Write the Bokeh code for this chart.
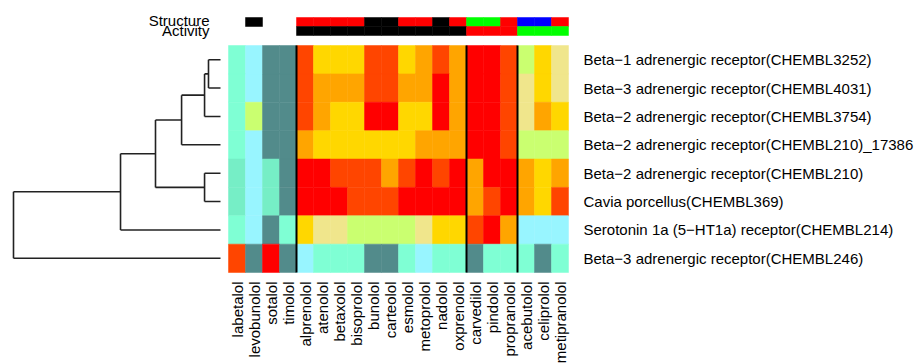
from math import pi
from bokeh.plotting import figure
from bokeh.models import Range1d, ColumnDataSource, LinearColorMapper
from bokeh.transform import transform
from bokeh.embed import file_html
from bokeh.resources import INLINE
from bokeh.core.properties import value

# ---------------- data ----------------
drugs = ["labetalol", "levobunolol", "sotalol", "timolol", "alprenolol", "atenolol",
         "betaxolol", "bisoprolol", "bunolol", "carteolol", "esmolol", "metoprolol",
         "nadolol", "oxprenolol", "carvedilol", "pindolol", "propranolol",
         "acebutolol", "celiprolol", "metipranolol"]

targets = ["Beta\u22121 adrenergic receptor(CHEMBL3252)",
           "Beta\u22123 adrenergic receptor(CHEMBL4031)",
           "Beta\u22122 adrenergic receptor(CHEMBL3754)",
           "Beta\u22122 adrenergic receptor(CHEMBL210)_17386",
           "Beta\u22122 adrenergic receptor(CHEMBL210)",
           "Cavia porcellus(CHEMBL369)",
           "Serotonin 1a (5\u2212HT1a) receptor(CHEMBL214)",
           "Beta\u22123 adrenergic receptor(CHEMBL246)"]

# level per cell (1 = strongest ... 10 = weakest / none)
row_beta1_3252   = [8, 9, 10, 10, 2, 4, 4, 4, 2, 2, 4, 3, 2, 3, 1, 1, 2, 6, 4, 5]
row_beta3_4031   = [8, 9, 10, 10, 2, 3, 3, 3, 2, 2, 3, 3, 1, 3, 1, 1, 2, 5, 4, 5]
row_beta2_3754   = [8, 6, 10, 10, 2, 3, 4, 4, 1, 1, 4, 4, 1, 3, 1, 1, 2, 5, 3, 4]
row_beta2_17386  = [8, 9, 10, 10, 3, 4, 4, 4, 4, 4, 4, 3, 3, 3, 1, 1, 2, 6, 6, 6]
row_beta2_210    = [7, 9, 7, 10, 1, 1, 2, 2, 2, 3, 2, 1, 2, 1, 3, 1, 1, 3, 4, 3]
row_cavia_369    = [7, 9, 7, 10, 1, 1, 1, 2, 2, 2, 1, 1, 1, 1, 3, 2, 1, 3, 4, 2]
row_5ht1a_214    = [8, 9, 10, 8, 4, 5, 5, 6, 6, 6, 6, 5, 4, 4, 2, 1, 3, 9, 9, 9]
row_beta3_246    = [2, 10, 1, 10, 9, 8, 8, 8, 10, 10, 8, 9, 8, 8, 10, 8, 8, 8, 10, 8]
levels = [row_beta1_3252, row_beta3_4031, row_beta2_3754, row_beta2_17386,
          row_beta2_210, row_cavia_369, row_5ht1a_214, row_beta3_246]

palette = ["#FF0000", "#FF4500", "#FFA500", "#FFD700", "#F0E68C",
           "#CAFF70", "#76EEC6", "#7FFFD4", "#98F5FF", "#528B8B"]

structure = [None, "#000000", None, None, "#FF0000", "#FF0000", "#FF0000", "#FF0000",
             "#000000", "#000000", "#FF0000", "#FF0000", "#000000", "#FF0000",
             "#00FF00", "#00FF00", "#FF0000", "#0000FF", "#0000FF", "#FF0000"]
activity = [None, None, None, None, "#000000", "#000000", "#000000", "#000000",
            "#000000", "#000000", "#000000", "#000000", "#000000", "#000000",
            "#FF0000", "#FF0000", "#FF0000", "#00FF00", "#00FF00", "#00FF00"]

group_breaks = [4, 14, 17]

# dendrogram merges (child a, child b, height); ids >= 8 are earlier merges
merges = [(0, 1, 0.58), (8, 2, 0.77), (9, 3, 1.88), (4, 5, 0.77),
          (10, 11, 3.14), (12, 6, 4.83), (13, 7, 10.0)]

# ---------------- layout (pixels in picture coordinates) ----------------
W, H = 921, 363
CW = 17.0          # column width px
HL = 228.0         # heatmap left px
HB = 272.0         # heatmap bottom px
RH = 28.375        # row height px
LEAF_PX, ROOT_PX = 220.0, 13.0

def dx(px):
    return (px - HL) / CW

def dy(py):
    return (HB - py) / RH

nrow, ncol = len(targets), len(drugs)

p = figure(width=W, height=H, output_backend="svg", toolbar_location=None,
           x_range=Range1d(dx(0), dx(W)), y_range=Range1d(dy(H), dy(0)),
           min_border=0, outline_line_color=None)
p.axis.visible = False
p.grid.visible = False
p.background_fill_color = "white"
p.border_fill_color = "white"

# heatmap
xs, ys, vs = [], [], []
for r in range(nrow):
    for c in range(ncol):
        xs.append(c + 0.5)
        ys.append(nrow - r - 0.5)
        vs.append(levels[r][c])
mapper = LinearColorMapper(palette=palette, low=0.5, high=len(palette) + 0.5)
src = ColumnDataSource(dict(x=xs, y=ys, v=vs))
p.rect("x", "y", width=1, height=1, source=src,
       fill_color=transform("v", mapper), line_color=transform("v", mapper), line_width=0.5)

# group separators
p.segment(x0=group_breaks, x1=group_breaks, y0=[0] * 3, y1=[nrow] * 3,
          line_color="black", line_width=2)

# annotation bars
def bar(colors, top_px, bot_px):
    bx = [c + 0.5 for c, col in enumerate(colors) if col]
    bc = [col for col in colors if col]
    yc = (dy(top_px) + dy(bot_px)) / 2
    hh = dy(top_px) - dy(bot_px)
    p.rect(x=bx, y=[yc] * len(bx), width=1, height=hh, fill_color=bc, line_color=bc, line_width=0.5)

bar(structure, 17, 26)
bar(activity, 26, 35)

FONT = value("Liberation Sans")
p.text(x=[dx(209)] * 2, y=[dy(20), dy(30)], text=["Structure", "Activity"],
       text_align="right", text_baseline="middle", text_font=FONT,
       text_font_size="15px", text_color="black")

# row labels
p.text(x=[dx(583)] * nrow, y=[nrow - r - 0.5 for r in range(nrow)], text=targets,
       text_align="left", text_baseline="middle", text_font=FONT,
       text_font_size="15px", text_color="black")

# column labels
p.text(x=[c + 0.5 for c in range(ncol)], y=[dy(281)] * ncol, text=drugs, angle=pi / 2,
       text_align="right", text_baseline="middle", text_font=FONT,
       text_font_size="15px", text_color="black")

# dendrogram
max_h = max(m[2] for m in merges)
leaf_x = dx(LEAF_PX)
scale = (dx(LEAF_PX) - dx(ROOT_PX)) / max_h

def X(h):
    return leaf_x - h * scale

node_y = {i: nrow - i - 0.5 for i in range(nrow)}
node_h = {i: 0.0 for i in range(nrow)}
x0s, y0s, x1s, y1s = [], [], [], []
for k, (a, b, h) in enumerate(merges):
    nid = nrow + k
    ya, yb = node_y[a], node_y[b]
    x0s += [X(h), X(node_h[a]), X(node_h[b])]
    x1s += [X(h), X(h), X(h)]
    y0s += [ya, ya, yb]
    y1s += [yb, ya, yb]
    node_y[nid] = (ya + yb) / 2
    node_h[nid] = h
p.segment(x0=x0s, y0=y0s, x1=x1s, y1=y1s, line_color="#222222", line_width=1.6)

open("out.html", "w").write(file_html(p, INLINE))
